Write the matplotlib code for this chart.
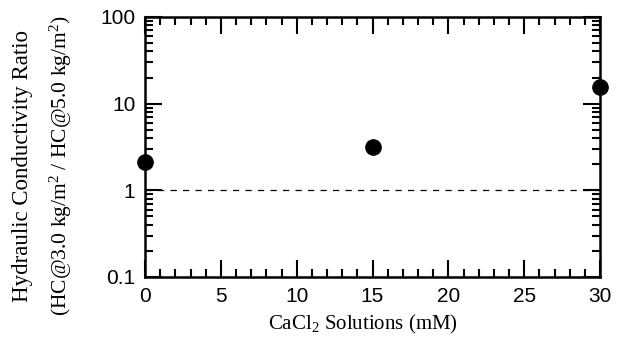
import matplotlib
matplotlib.use("Agg")
import matplotlib.pyplot as plt
from matplotlib.ticker import MultipleLocator, LogLocator, NullFormatter, FixedLocator, FixedFormatter

# data
cacl2_mM = [0, 15, 30]
hc_ratio = [2.15, 3.2, 15.5]
reference_ratio = 1.0

y_ticks = [0.1, 1, 10, 100]
y_labels = ["0.1", "1", "10", "100"]

plt.rcParams['mathtext.fontset'] = 'custom'
plt.rcParams['mathtext.rm'] = 'Liberation Serif'
plt.rcParams['mathtext.it'] = 'Liberation Serif:italic'

fig = plt.figure(figsize=(6.27, 3.38), dpi=100)
ax = fig.add_axes([145/627, 61/338, 455/627, 260/338])

ax.plot(cacl2_mM, hc_ratio, 'o', color='black', markersize=11, clip_on=False, zorder=5)
ax.axhline(reference_ratio, color='black', lw=0.9, linestyle=(0, (5, 5)))

ax.set_yscale('log')
ax.set_xlim(0, 30)
ax.set_ylim(0.1, 100)

ax.xaxis.set_major_locator(MultipleLocator(5))
ax.xaxis.set_minor_locator(MultipleLocator(1))
ax.yaxis.set_major_locator(FixedLocator(y_ticks))
ax.yaxis.set_major_formatter(FixedFormatter(y_labels))
ax.yaxis.set_minor_locator(LogLocator(base=10, subs=range(2, 10)))
ax.yaxis.set_minor_formatter(NullFormatter())

ax.tick_params(which='both', direction='in', top=True, right=True, width=1.5)
ax.tick_params(which='major', length=12, labelsize=15, pad=7)
ax.tick_params(which='minor', length=6)
for lab in ax.get_xticklabels() + ax.get_yticklabels():
    lab.set_fontfamily('Liberation Sans')
for s in ax.spines.values():
    s.set_linewidth(1.8)

serif = 'Liberation Serif'
ymid = 1 - 166/338
fig.text(363/627, 1 - 324/338, "CaCl$_{2}$ Solutions (mM)", ha='center', va='center',
         fontsize=15, family=serif)
fig.text(23/627, ymid, "Hydraulic Conductivity Ratio", rotation=90,
         ha='center', va='center', fontsize=16.5, family=serif)
fig.text(61/627, ymid,
         "(HC@3.0 kg/m$^{2}$ / HC@5.0 kg/m$^{2}$)", rotation=90,
         ha='center', va='center', fontsize=15.5, family=serif)

fig.savefig("out.png", dpi=100)
